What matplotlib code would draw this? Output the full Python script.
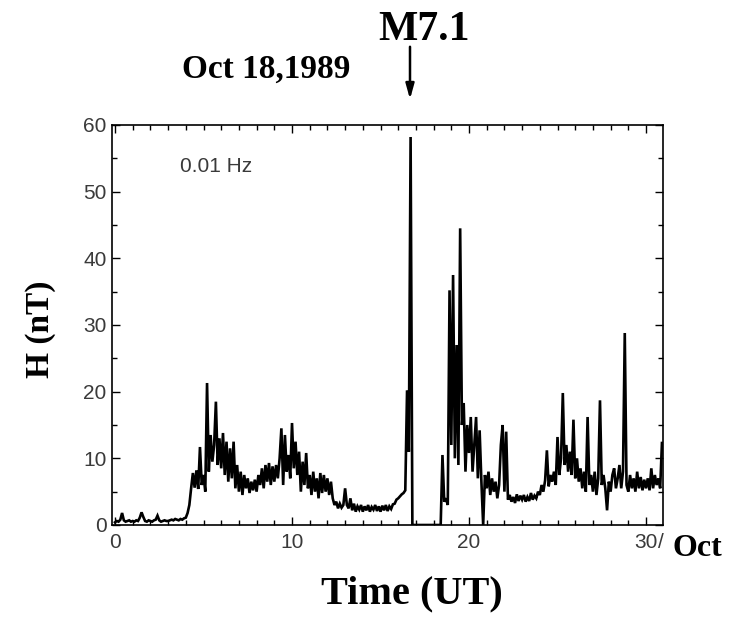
import numpy as np
import matplotlib
matplotlib.use("Agg")
import matplotlib.pyplot as plt
from matplotlib.ticker import MultipleLocator, FixedLocator

plt.rcParams["font.family"] = ["Liberation Sans", "DejaVu Sans"]

# H component (nT), 0.01 Hz band, sampled every 0.1 day, Oct 1989
step = 0.1
h_days_00_03 = [0.4, 0.6, 0.5, 0.8, 1.8, 0.7, 0.5, 0.6, 0.7, 0.5,
                0.6, 0.5, 0.7, 0.6, 1.1, 1.9, 1.2, 0.6, 0.5, 0.7,
                0.6, 0.5, 0.7, 0.8, 1.4, 0.7, 0.5, 0.6, 0.7, 0.6,
                0.6, 0.7, 0.8, 0.7, 0.9, 0.8, 0.7, 0.9, 0.8, 1.0]
h_days_04_07 = [1.1, 1.8, 3.0, 5.5, 7.8, 5.6, 8.2, 5.4, 11.7, 6.0,
                7.5, 5.0, 21.3, 8.0, 13.5, 9.5, 12.0, 18.5, 9.0, 13.0,
                8.5, 13.8, 7.5, 12.5, 6.5, 11.5, 7.0, 12.5, 5.5, 9.0,
                5.0, 8.0, 4.5, 7.5, 5.5, 7.0, 4.8, 6.5, 5.2, 6.8]
h_days_08_11 = [5.0, 7.5, 6.0, 8.5, 5.5, 9.0, 6.5, 9.3, 6.0, 8.8,
                6.5, 9.0, 7.0, 10.0, 14.5, 6.0, 13.5, 8.0, 10.5, 7.0,
                15.3, 8.5, 12.5, 7.5, 11.0, 5.0, 9.5, 6.0, 10.8, 5.5,
                7.5, 4.5, 8.0, 5.0, 7.0, 4.0, 7.8, 4.8, 7.5, 5.0]
h_days_12_15 = [7.0, 4.5, 6.5, 4.0, 3.0, 3.5, 2.5, 3.2, 2.6, 3.0,
                5.5, 3.0, 2.5, 4.0, 2.2, 3.2, 2.0, 2.8, 2.3, 3.0,
                2.0, 2.8, 2.2, 3.0, 2.0, 2.7, 2.3, 3.0, 2.1, 2.8,
                2.0, 2.9, 2.2, 3.0, 2.1, 2.8, 2.4, 3.1, 3.2, 3.8]
h_days_16_19 = [4.0, 4.3, 4.6, 4.8, 5.2, 20.2, 11.0, 58.2, 0.0, 0.0,
                0.0, 0.0, 0.0, 0.0, 0.0, 0.0, 0.0, 0.0, 0.0, 0.0,
                0.0, 0.0, 0.0, 0.0, 0.0, 10.5, 3.5, 4.0, 3.0, 35.2,
                12.0, 37.5, 10.0, 27.0, 9.0, 44.5, 15.0, 18.3, 8.0, 15.0]
h_days_20_23 = [10.8, 16.2, 8.0, 12.0, 16.2, 7.0, 14.2, 6.5, 0.0, 7.5,
                5.5, 8.0, 4.5, 7.0, 5.0, 6.5, 4.0, 6.0, 12.0, 15.0,
                5.0, 14.0, 3.8, 4.5, 3.5, 4.2, 3.3, 4.6, 3.6, 4.4,
                3.8, 4.5, 3.5, 4.2, 3.6, 4.8, 3.8, 4.4, 4.0, 5.0]
h_days_24_27 = [4.5, 6.0, 5.0, 6.7, 11.2, 5.8, 7.5, 6.5, 8.0, 6.0,
                13.2, 7.5, 10.0, 19.8, 9.0, 12.0, 8.0, 11.0, 7.5, 15.8,
                7.0, 10.0, 6.5, 8.5, 5.5, 8.0, 5.0, 16.2, 6.0, 7.5,
                5.0, 8.0, 4.5, 7.0, 18.7, 6.0, 7.5, 5.5, 2.2, 6.5]
h_days_28_30 = [5.0, 7.5, 8.5, 5.5, 7.0, 9.0, 5.5, 8.0, 28.8, 6.0,
                5.0, 7.5, 5.5, 7.0, 5.0, 8.0, 5.5, 7.2, 5.2, 6.8,
                5.5, 7.0, 5.2, 8.5, 5.5, 7.5, 6.0, 7.0, 5.5, 12.3]

x_ticks = [0, 10, 20, 30]
x_tick_labels = ["0", "10", "20", "30"]
y_ticks = [0, 10, 20, 30, 40, 50, 60]

h = np.array(h_days_00_03 + h_days_04_07 + h_days_08_11 + h_days_12_15
             + h_days_16_19 + h_days_20_23 + h_days_24_27 + h_days_28_30)
t = np.arange(len(h)) * step

W, H = 730, 618
fig = plt.figure(figsize=(W / 100, H / 100), dpi=100)
ax = fig.add_axes([112 / W, 1 - 525 / H, (663 - 112) / W, 400 / H])

ax.plot(t, h, color="black", lw=1.9, solid_joinstyle="miter")

ax.set_xlim(-0.17, 30.96)
ax.set_ylim(0, 60)
ax.xaxis.set_major_locator(FixedLocator(x_ticks))
ax.set_xticklabels(x_tick_labels)
ax.xaxis.set_minor_locator(MultipleLocator(1))
ax.yaxis.set_major_locator(FixedLocator(y_ticks))
ax.yaxis.set_minor_locator(MultipleLocator(5))
ax.tick_params(which="both", direction="in", top=True, right=True,
               colors="black", labelcolor="#3a3a3a", width=1.0,
               labelsize=15)
ax.tick_params(which="major", length=6)
ax.tick_params(which="minor", length=3.5)
ax.tick_params(axis="x", pad=6)
ax.tick_params(axis="y", pad=4)
for s in ax.spines.values():
    s.set_linewidth(1.2)

ax.text(3.7, 53.8, "0.01 Hz", fontsize=15, color="#3a3a3a",
        va="center", ha="left")

serif = "Liberation Serif"
fig.text(424 / W, 1 - 40 / H, "M7.1", fontsize=30, family=serif,
         fontweight="bold", ha="center", va="baseline")
fig.text(266 / W, 1 - 78 / H, "Oct 18,1989", fontsize=24, family=serif,
         fontweight="bold", ha="center", va="baseline")
ax.annotate("", xy=(410 / W, 1 - 102 / H), xytext=(410 / W, 1 - 44 / H),
            xycoords="figure fraction", textcoords="figure fraction",
            arrowprops=dict(arrowstyle="-|>,head_length=0.9,head_width=0.25",
                            color="black", lw=1.8))
fig.text(412 / W, 1 - 603 / H, "Time (UT)", fontsize=29, family=serif,
         fontweight="bold", ha="center", va="baseline")
fig.text(40 / W, 1 - 329 / H, "H (nT)", fontsize=24, family=serif,
         fontweight="bold", ha="center", va="center", rotation=90)
fig.text(661 / W, 1 - 543 / H, "/", fontsize=15, color="#3a3a3a",
         ha="center", va="center")
fig.text(672 / W, 1 - 556 / H, "Oct", fontsize=23, family=serif,
         fontweight="bold", ha="left", va="baseline")

fig.savefig("out.png", dpi=100)
